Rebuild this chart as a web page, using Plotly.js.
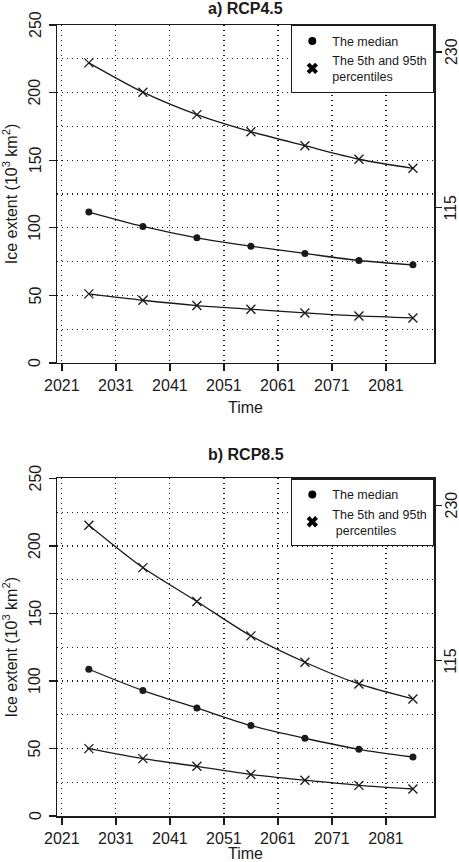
<!DOCTYPE html>
<html><head><meta charset="utf-8">
<script src="https://cdn.plot.ly/plotly-3.0.1.min.js"></script>
<style>html,body{margin:0;padding:0;background:#fff}#chart{width:459px;height:862px}</style>
</head><body><div id="chart"></div>
<script>
const years = [2026, 2036, 2046, 2056, 2066, 2076, 2086];
const rcp45Upper  = [222.0, 200.3, 183.7, 171.1, 160.7, 150.7, 144.0];
const rcp45Median = [111.6, 101.0, 92.6, 86.4, 81.0, 75.8, 72.6];
const rcp45Lower  = [51.1, 46.4, 42.5, 39.8, 37.0, 34.8, 33.3];
const rcp85Upper  = [215.4, 184.0, 158.9, 133.4, 113.9, 97.8, 86.7];
const rcp85Median = [108.7, 92.9, 80.0, 67.0, 57.6, 49.4, 43.7];
const rcp85Lower  = [49.9, 42.5, 36.8, 30.7, 26.5, 22.7, 20.0];
const xTicks = [2021, 2031, 2041, 2051, 2061, 2071, 2081];
const leftTicks = [0, 50, 100, 150, 200, 250];
const gridTicks = [25, 75, 125, 175, 225];
const rightTicks = [115, 230];
const panelTitles = ['a) RCP4.5', 'b) RCP8.5'];
const legendNames = ['The median', 'The 5th and 95th<br>percentiles'];
const legendNamesB = ['The median', 'The 5th and 95th<br> percentiles'];
const xTitle = 'Time';
const yTitle = 'Ice extent (10<sup>3</sup> km<sup>2</sup>)';

const FONT = '"Liberation Sans", Arial, Helvetica, sans-serif';
const INK = '#1a1a1a';
const DOT = '1px,4px';

function series(x, y, xa, ya, sym) {
  const isX = sym === 'x';
  return {
    x: x, y: y, xaxis: xa, yaxis: ya, type: 'scatter', mode: 'lines+markers',
    showlegend: false, hoverinfo: 'skip',
    line: {color: INK, width: 1.3, shape: 'spline', smoothing: 0.8},
    marker: isX ? {symbol: 'x-thin-open', size: 9, color: INK, line: {color: INK, width: 1.3}}
                : {symbol: 'circle', size: 7, color: INK, line: {width: 0}}
  };
}
function legendItem(name, sym, xa, ya, lg) {
  return {
    x: [null], y: [null], xaxis: xa, yaxis: ya, type: 'scatter', mode: 'markers',
    name: name, legend: lg, showlegend: true, hoverinfo: 'skip',
    marker: sym === 'x' ? {symbol: 'x', size: 10, color: '#000', line: {width: 0}}
                        : {symbol: 'circle', size: 8, color: '#000', line: {width: 0}}
  };
}

const data = [
  series(years, rcp45Upper, 'x', 'y', 'x'),
  series(years, rcp45Median, 'x', 'y', 'o'),
  series(years, rcp45Lower, 'x', 'y', 'x'),
  series(years, rcp85Upper, 'x2', 'y3', 'x'),
  series(years, rcp85Median, 'x2', 'y3', 'o'),
  series(years, rcp85Lower, 'x2', 'y3', 'x'),
  legendItem(legendNames[0], 'o', 'x', 'y', 'legend'),
  legendItem(legendNames[1], 'x', 'x', 'y', 'legend'),
  legendItem(legendNamesB[0], 'o', 'x2', 'y3', 'legend2'),
  legendItem(legendNamesB[1], 'x', 'x2', 'y3', 'legend2')
];

const X_RANGE = [2020.1, 2089.9];
function xAxis(anchor) {
  return {
    anchor: anchor, domain: [0, 1], range: X_RANGE,
    tickmode: 'array', tickvals: xTicks, ticktext: xTicks.map(String),
    ticks: 'outside', ticklen: 7, tickwidth: 1.3, tickcolor: INK,
    showline: true, linecolor: INK, linewidth: 1.5, mirror: true,
    showgrid: true, gridcolor: INK, gridwidth: 1.2, griddash: DOT,
    zeroline: false, tickfont: {family: FONT, size: 16, color: INK},
    title: {text: xTitle, font: {family: FONT, size: 16, color: INK}, standoff: 9}
  };
}
function yLeft(anchor, domain) {
  return {
    anchor: anchor, domain: domain, range: [0, 250],
    tickmode: 'array', tickvals: leftTicks, showticklabels: false,
    ticks: 'outside', ticklen: 7, tickwidth: 1.3, tickcolor: INK,
    showline: true, linecolor: INK, linewidth: 1.5, mirror: true,
    showgrid: true, gridcolor: INK, gridwidth: 1.2, griddash: DOT,
    minor: {tickvals: gridTicks, showgrid: true, gridcolor: INK, gridwidth: 1.2, griddash: DOT, ticks: ''},
    zeroline: false,
    title: {text: yTitle, font: {family: FONT, size: 16, color: INK}, standoff: 27}
  };
}
function yRight(anchor, over) {
  return {
    anchor: anchor, overlaying: over, side: 'right', range: [0, 250],
    tickmode: 'array', tickvals: rightTicks, showticklabels: false,
    ticks: 'outside', ticklen: 7, tickwidth: 1.3, tickcolor: INK,
    showline: false, showgrid: false, zeroline: false
  };
}
const legendStyle = (y) => ({
  x: 1, xanchor: 'right', y: y, yanchor: 'top',
  bgcolor: '#fff', bordercolor: INK, borderwidth: 1.3,
  font: {family: FONT, size: 12.5, color: INK},
  itemwidth: 30, tracegroupgap: 0
});

const tickFont = {family: FONT, size: 16, color: INK};
const annotations = [
  {text: '<b>' + panelTitles[0] + '</b>', xref: 'paper', yref: 'paper', x: 0.5, y: 1.0209,
   xanchor: 'center', yanchor: 'middle', showarrow: false, font: {family: FONT, size: 16, color: INK}},
  {text: '<b>' + panelTitles[1] + '</b>', xref: 'paper', yref: 'paper', x: 0.5, y: 0.4564,
   xanchor: 'center', yanchor: 'middle', showarrow: false, font: {family: FONT, size: 16, color: INK}}
];
// panel a: left labels anchored in data coordinates of x, rotated -90
leftTicks.forEach(v => annotations.push({
  text: String(v), xref: 'x', yref: 'y', x: X_RANGE[0], y: v, xshift: -22,
  xanchor: 'center', yanchor: 'middle', textangle: -90, showarrow: false, font: tickFont
}));
// panel b: left labels in paper coords, rotated 270
leftTicks.forEach(v => annotations.push({
  text: String(v), xref: 'paper', yref: 'y3', x: 0, y: v, xshift: -22,
  xanchor: 'center', yanchor: 'middle', textangle: 270, showarrow: false, font: tickFont
}));
['y2', 'y4'].forEach(yr => {
  rightTicks.forEach(v => annotations.push({
    text: String(v), xref: 'paper', yref: yr, x: 1, y: v, xshift: 17,
    xanchor: 'center', yanchor: 'middle', textangle: -90, showarrow: false, font: tickFont
  }));
});

const layout = {
  width: 459, height: 862, autosize: false,
  margin: {l: 57, r: 25, t: 25, b: 46},
  paper_bgcolor: '#fff', plot_bgcolor: '#fff',
  font: {family: FONT, color: INK},
  showlegend: true,
  xaxis: xAxis('y'),
  xaxis2: xAxis('y3'),
  yaxis: yLeft('x', [0.5727, 1]),
  yaxis2: yRight('x', 'y'),
  yaxis3: yLeft('x2', [0, 0.4267]),
  yaxis4: yRight('x2', 'y3'),
  legend: legendStyle(1),
  legend2: legendStyle(0.4267),
  annotations: annotations
};

Plotly.newPlot('chart', data, layout, {staticPlot: true, displayModeBar: false});
</script>
</body></html>
